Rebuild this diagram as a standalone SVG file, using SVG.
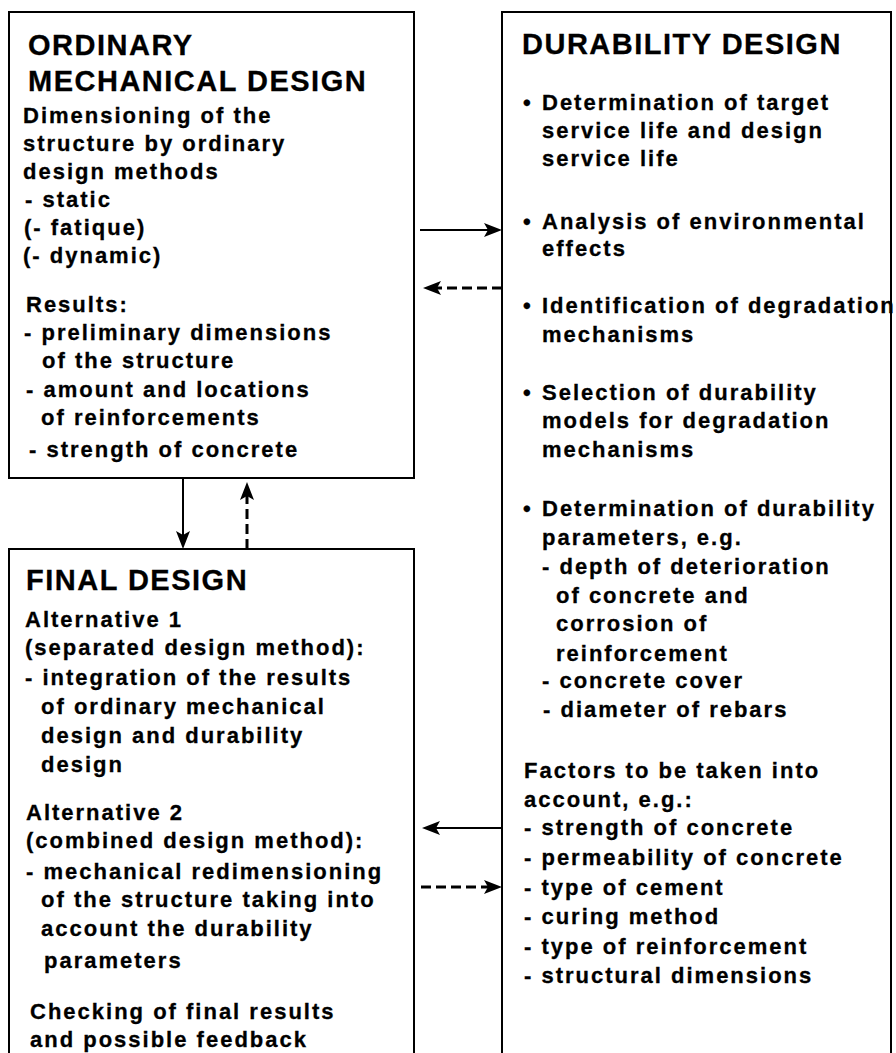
<svg xmlns="http://www.w3.org/2000/svg" width="896" height="1053" viewBox="0 0 896 1053">
  <style>
    .box { fill: #fff; stroke: #000; stroke-width: 2; }
    .title { font-family: "Liberation Sans", Arial, sans-serif; font-weight: bold; font-size: 29px; letter-spacing: 1.5px; fill: #000; stroke: #000; stroke-width: 0.3; }
    .txt { font-family: "Liberation Sans", Arial, sans-serif; font-weight: bold; font-size: 22px; letter-spacing: 2px; fill: #000; stroke: #000; stroke-width: 0.3; }
    .solid { stroke: #000; stroke-width: 2; fill: none; }
    .dashed { stroke: #000; stroke-width: 3; fill: none; stroke-dasharray: 10 5; }
  </style>
  <defs>
    <marker id="arrow" viewBox="0 0 18 14" refX="8" refY="7" markerWidth="18" markerHeight="14" markerUnits="userSpaceOnUse" orient="auto">
      <path d="M0,0 L18,7 L0,14 L4,7 z" fill="#000"/>
    </marker>
  </defs>

  <rect width="896" height="1053" fill="#fff"/>

  <!-- Ordinary mechanical design -->
  <g id="mechanical">
    <rect class="box" x="9" y="12" width="405" height="466"/>
    <text class="title" x="28" y="55">ORDINARY</text>
    <text class="title" x="28" y="91">MECHANICAL DESIGN</text>
    <text class="txt" x="23" y="123">Dimensioning of the</text>
    <text class="txt" x="23" y="151">structure by ordinary</text>
    <text class="txt" x="23" y="179">design methods</text>
    <text class="txt" x="25" y="207">- static</text>
    <text class="txt" x="24" y="235">(- fatique)</text>
    <text class="txt" x="23" y="263">(- dynamic)</text>
    <text class="txt" x="26" y="312">Results:</text>
    <text class="txt" x="24" y="340">- preliminary dimensions</text>
    <text class="txt" x="42" y="368">of the structure</text>
    <text class="txt" x="26" y="397">- amount and locations</text>
    <text class="txt" x="41" y="425">of reinforcements</text>
    <text class="txt" x="29" y="457">- strength of concrete</text>
  </g>

  <!-- Durability design -->
  <g id="durability">
    <rect class="box" x="502" y="12" width="389" height="1060"/>
    <text class="title" x="522" y="54">DURABILITY DESIGN</text>
    <text class="txt" x="523" y="110">•</text>
    <text class="txt" x="542" y="110">Determination of target</text>
    <text class="txt" x="542" y="138">service life and design</text>
    <text class="txt" x="542" y="166">service life</text>
    <text class="txt" x="523" y="229">•</text>
    <text class="txt" x="542" y="229">Analysis of environmental</text>
    <text class="txt" x="542" y="256">effects</text>
    <text class="txt" x="523" y="313">•</text>
    <text class="txt" x="542" y="313">Identification of degradation</text>
    <text class="txt" x="542" y="342">mechanisms</text>
    <text class="txt" x="523" y="400">•</text>
    <text class="txt" x="542" y="400">Selection of durability</text>
    <text class="txt" x="542" y="428">models for degradation</text>
    <text class="txt" x="542" y="457">mechanisms</text>
    <text class="txt" x="523" y="516">•</text>
    <text class="txt" x="542" y="516">Determination of durability</text>
    <text class="txt" x="542" y="545">parameters, e.g.</text>
    <text class="txt" x="542" y="574">- depth of deterioration</text>
    <text class="txt" x="556" y="603">of concrete and</text>
    <text class="txt" x="556" y="631">corrosion of</text>
    <text class="txt" x="556" y="661">reinforcement</text>
    <text class="txt" x="542" y="688">- concrete cover</text>
    <text class="txt" x="543" y="717">- diameter of rebars</text>
    <text class="txt" x="524" y="778">Factors to be taken into</text>
    <text class="txt" x="524" y="807">account, e.g.:</text>
    <text class="txt" x="524" y="835">- strength of concrete</text>
    <text class="txt" x="524" y="865">- permeability of concrete</text>
    <text class="txt" x="524" y="895">- type of cement</text>
    <text class="txt" x="524" y="924">- curing method</text>
    <text class="txt" x="524" y="954">- type of reinforcement</text>
    <text class="txt" x="524" y="983">- structural dimensions</text>
  </g>

  <!-- Final design -->
  <g id="final">
    <rect class="box" x="9" y="549" width="405" height="520"/>
    <text class="title" x="26" y="590">FINAL DESIGN</text>
    <text class="txt" x="25" y="627">Alternative 1</text>
    <text class="txt" x="25" y="655">(separated design method):</text>
    <text class="txt" x="25" y="685">- integration of the results</text>
    <text class="txt" x="41" y="714">of ordinary mechanical</text>
    <text class="txt" x="41" y="743">design and durability</text>
    <text class="txt" x="41" y="772">design</text>
    <text class="txt" x="26" y="820">Alternative 2</text>
    <text class="txt" x="26" y="848">(combined design method):</text>
    <text class="txt" x="26" y="879">- mechanical redimensioning</text>
    <text class="txt" x="41" y="907">of the structure taking into</text>
    <text class="txt" x="41" y="936">account the durability</text>
    <text class="txt" x="44" y="968">parameters</text>
    <text class="txt" x="30" y="1019">Checking of final results</text>
    <text class="txt" x="30" y="1047">and possible feedback</text>
  </g>

  <!-- Connectors -->
  <g id="connectors">
    <path class="solid" d="M420,230 H492" marker-end="url(#arrow)"/>
    <path class="dashed" d="M502,288 H433" marker-end="url(#arrow)"/>
    <path class="solid" d="M183,478 V539" marker-end="url(#arrow)"/>
    <path class="dashed" d="M247,549 V492" marker-end="url(#arrow)"/>
    <path class="solid" d="M502,828 H432" marker-end="url(#arrow)"/>
    <path class="dashed" d="M421,887 H492" marker-end="url(#arrow)"/>
  </g>
</svg>
